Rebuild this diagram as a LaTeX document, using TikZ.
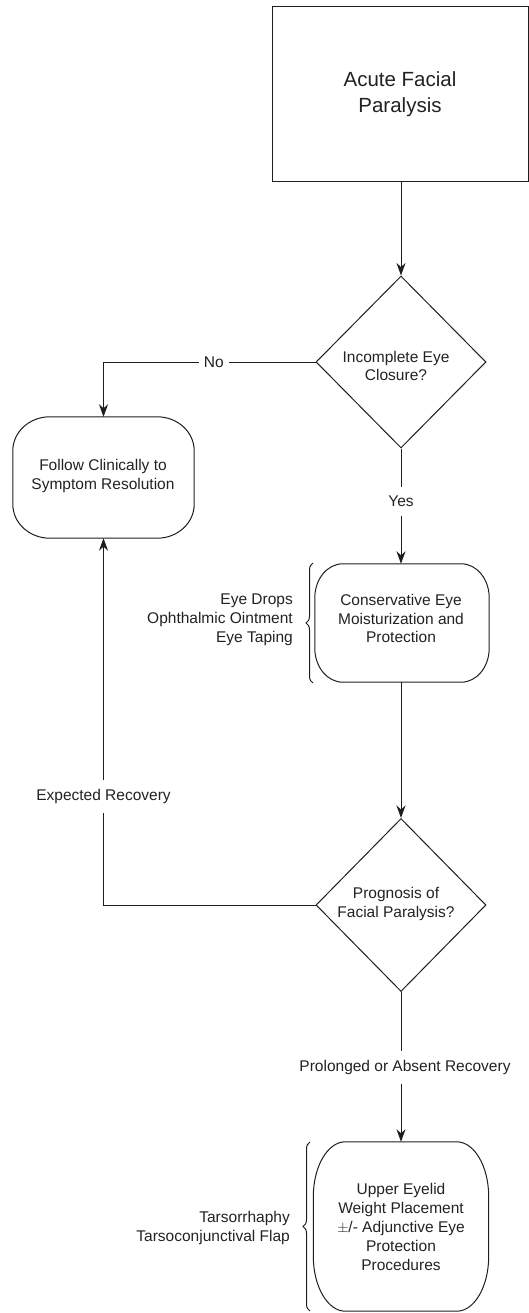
\documentclass[tikz,border=0pt]{standalone}
\usepackage{fontspec}
\setmainfont{Liberation Sans}
\usetikzlibrary{shapes.geometric,arrows.meta,decorations.pathreplacing}
\definecolor{ink}{HTML}{1E1E1E}
\definecolor{inktext}{HTML}{222222}

% outline of a box with elliptical corners, drawn round a named node
\newcommand\pilloutline[3]{%
  \draw[line] ([xshift=#2]#1.north west) -- ([xshift=-#2]#1.north east)
    arc[start angle=90,end angle=0,x radius=#2,y radius=#3]
    -- ([yshift=#3]#1.south east)
    arc[start angle=0,end angle=-90,x radius=#2,y radius=#3]
    -- ([xshift=#2]#1.south west)
    arc[start angle=270,end angle=180,x radius=#2,y radius=#3]
    -- ([yshift=-#3]#1.north west)
    arc[start angle=180,end angle=90,x radius=#2,y radius=#3] -- cycle;}

\begin{document}
\begin{tikzpicture}[x=1pt,y=1pt,
  line/.style={draw=ink,line width=1pt},
  flow/.style={line,-{Stealth[length=12.5pt,width=9pt,inset=4pt]}},
  txt/.style={text=inktext,font=\fontsize{15.5}{18.8}\selectfont,align=center,inner sep=0pt},
  bigtxt/.style={text=inktext,font=\fontsize{20.5}{26}\selectfont,align=center},
  lbl/.style={txt,fill=white,inner xsep=5pt,inner ysep=9pt},
  startbox/.style={line,rectangle,minimum width=256pt,minimum height=175pt,inner sep=0pt},
  decision/.style={line,diamond,minimum width=170pt,minimum height=172pt,inner sep=0pt},
  pill/.style={rectangle,inner sep=0pt},
  brace/.style={line,decorate,decoration={brace,amplitude=7pt}},
]
\useasboundingbox (0,0) rectangle (529,-1313);

% start box
\node[startbox,bigtxt] (start) at (400,-94.5) {Acute Facial\\Paralysis};

% first decision
\node[decision] (q1) at (401,-362) {};
\node[txt] (q1text) at (396,-366) {Incomplete Eye\\Closure?};

% follow-up box
\node[pill,minimum width=181pt,minimum height=121pt] (follow) at (103.5,-477.5) {};
\pilloutline{follow}{37pt}{34pt}
\node[txt] (followtext) at (103,-476) {Follow Clinically to\\Symptom Resolution};

% conservative treatment
\node[pill,minimum width=174pt,minimum height=118pt] (cons) at (402,-623) {};
\pilloutline{cons}{28pt}{34pt}
\node[txt] (constext) at (401,-618.5) {Conservative Eye\\Moisturization and\\Protection};
\draw[brace] (313,-683) -- (313,-563);
\node[txt,align=right,anchor=east] (consopts) at (293,-620)
  {Eye Drops\\Ophthalmic Ointment\\Eye Taping};

% second decision
\node[decision,minimum height=173pt] (q2) at (401,-905) {};
\node[txt] (q2text) at (396,-904) {Prognosis of\\Facial Paralysis?};

% surgical treatment
\node[pill,minimum width=175pt,minimum height=169pt] (surg) at (401,-1226.5) {};
\pilloutline{surg}{32pt}{55pt}
\node[txt] (surgtext) at (401,-1227)
  {Upper Eyelid\\Weight Placement\\$\pm$/- Adjunctive Eye\\Protection\\Procedures};
\draw[brace] (310,-1311) -- (310,-1142);
\node[txt,align=right,anchor=east] (surgopts) at (290,-1228)
  {Tarsorrhaphy\\Tarsoconjunctival Flap};

% connectors
\draw[flow] (q1.north |- start.south) -- (q1.north);
\draw[flow] (q1.west) -| node[lbl,pos=0.24] {No} (follow.north);
\draw[flow] (q1.south) -- node[lbl,pos=0.457] {Yes} (q1.south |- cons.north);
\draw[flow] (q2.north |- cons.south) -- (q2.north);
\draw[flow] (q2.west) -| node[lbl,pos=0.648] {Expected Recovery} (follow.south);
\draw[flow] (q2.south) -- node[lbl,pos=0.505,xshift=4pt] {Prolonged or Absent Recovery} (q2.south |- surg.north);
\end{tikzpicture}
\end{document}
